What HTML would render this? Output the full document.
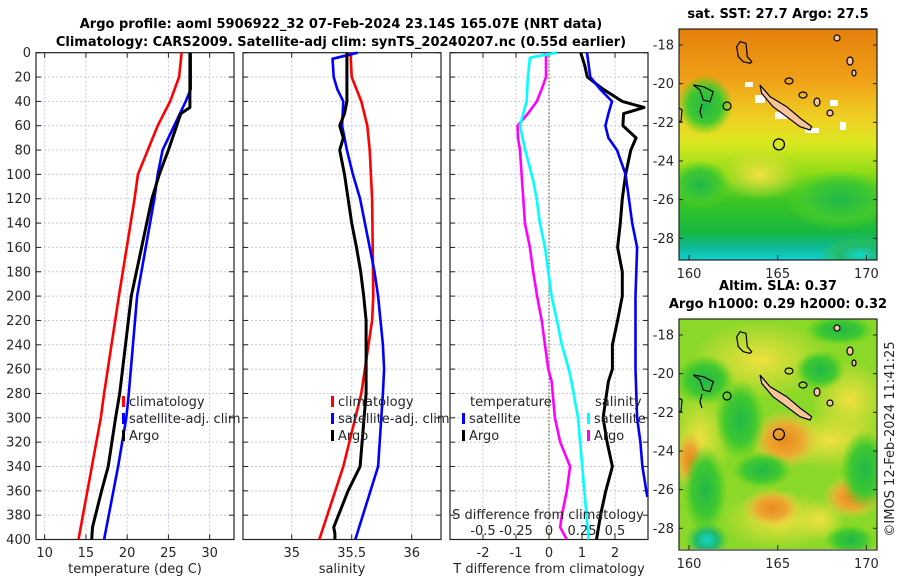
<!DOCTYPE html>
<html><head><meta charset="utf-8"><style>
body{margin:0;background:#fff}
svg{display:block;font-family:"DejaVu Sans","Liberation Sans",sans-serif}
</style></head><body>
<svg id="s" width="900" height="580" viewBox="0 0 900 580" xmlns="http://www.w3.org/2000/svg">
<defs>
<linearGradient id="sstg" x1="0" y1="0" x2="0" y2="1">
<stop offset="0" stop-color="#e4800c"/><stop offset="0.22" stop-color="#f0a018"/><stop offset="0.4" stop-color="#eed424"/><stop offset="0.5" stop-color="#d8e820"/><stop offset="0.62" stop-color="#90dc18"/><stop offset="0.75" stop-color="#38c424"/><stop offset="0.88" stop-color="#18b840"/><stop offset="0.94" stop-color="#10b890"/><stop offset="1" stop-color="#10d0d0"/>
</linearGradient>
<radialGradient id="gY"><stop offset="0" stop-color="#f0e040"/><stop offset="1" stop-color="#f0e040" stop-opacity="0"/></radialGradient>
<radialGradient id="gO"><stop offset="0" stop-color="#e88a1c"/><stop offset="0.5" stop-color="#eca830"/><stop offset="1" stop-color="#f0d040" stop-opacity="0"/></radialGradient>
<radialGradient id="gG"><stop offset="0" stop-color="#20b848"/><stop offset="0.6" stop-color="#40c830"/><stop offset="1" stop-color="#50d020" stop-opacity="0"/></radialGradient>
<radialGradient id="gT"><stop offset="0" stop-color="#10d8c8"/><stop offset="0.5" stop-color="#20b870"/><stop offset="1" stop-color="#40c830" stop-opacity="0"/></radialGradient>
<clipPath id="cm1"><rect x="679" y="29" width="198" height="231"/></clipPath>
<clipPath id="cm2"><rect x="679" y="319" width="198" height="230"/></clipPath>
</defs>
</svg>
<script>
// ---- data (depth in m, values) ----
const tClimD=[0,20,40,60,80,100,120,200,280,300,400];
const tClimV=[26.6,26.3,25.2,23.7,22.5,21.3,20.9,19.0,17.2,16.8,14.1];
const tSatD=[0,30,40,60,80,100,120,200,280,300,340,400];
const tSatV=[27.7,27.7,27.1,25.7,24.3,23.7,23.3,21.2,20.2,19.9,18.9,17.2];
const tArgoD=[0,45,50,60,80,100,120,200,280,300,340,360,390,400];
const tArgoV=[27.6,27.6,26.5,26,25,23.9,23,20.5,19.1,18.6,17.7,16.9,15.8,15.7];
const sClimD=[0,20,40,60,80,120,200,220,240,260,280,340,400];
const sClimV=[35.49,35.5,35.58,35.63,35.65,35.67,35.68,35.67,35.64,35.61,35.58,35.43,35.23];
const sSatD=[0,5,20,30,40,60,80,100,120,140,160,180,200,220,240,260,280,340,400];
const sSatV=[35.55,35.34,35.35,35.38,35.43,35.42,35.46,35.51,35.57,35.61,35.65,35.69,35.72,35.74,35.76,35.77,35.76,35.72,35.53];
const sArgoD=[0,40,50,60,70,80,100,120,140,160,180,200,220,240,260,280,340,360,390,395,400];
const sArgoV=[35.46,35.46,35.44,35.4,35.43,35.4,35.44,35.47,35.5,35.54,35.575,35.6,35.62,35.62,35.62,35.62,35.57,35.47,35.35,35.36,35.36];
const dtArgoD=[0,20,30,40,50,60,70,80,100,120,140,160,180,200,220,240,260,270,300,320,340,360,380,390,400];
const dtArgoV=[-0.09,-0.09,-0.22,-0.37,-0.64,-0.95,-0.94,-0.88,-0.83,-0.78,-0.73,-0.58,-0.48,-0.36,-0.22,-0.12,-0.02,0.08,0.18,0.34,0.64,0.54,0.39,0.34,0.54];
const dtSatD=[0,20,30,40,50,60,70,80,100,120,140,160,200,260,300,320,340,365];
const dtSatV=[1.15,1.25,1.55,1.91,1.8,1.71,1.8,2.06,2.32,2.42,2.52,2.67,2.62,2.62,2.67,2.77,2.83,2.98];
const dsSatD=[0,4,20,40,60,80,105,120,140,160,180,200,220,240,260,270,300,350,400];
const dsSatV=[0.06,-0.145,-0.16,-0.17,-0.22,-0.18,-0.12,-0.094,-0.069,-0.03,-0.005,0.02,0.06,0.097,0.15,0.17,0.22,0.26,0.3];
const dsArgoD=[0,10,20,30,40,45,50,60,70,80,100,120,140,160,180,200,220,240,260,270,300,320,340,360,380,400];
const dsArgoV=[0.24,0.27,0.29,0.41,0.555,0.72,0.565,0.56,0.66,0.62,0.58,0.555,0.54,0.52,0.555,0.555,0.52,0.48,0.48,0.45,0.41,0.44,0.48,0.43,0.39,0.36];
const depthTicks=[0,20,40,60,80,100,120,140,160,180,200,220,240,260,280,300,320,340,360,380,400];
const tTicks=[10,15,20,25,30];
const sTicks=[35,35.5,36];
const dtTicks=[-2,-1,0,1,2];
const dsTicks=[-0.5,-0.25,0,0.25,0.5];
const dsTickLabels=["-0.5","-0.25","0","0.25","0.5"];
const lonTicks=[160,165,170];
const latTicks=[-18,-20,-22,-24,-26,-28];
const floatLon=165.07, floatLat=-23.14;

const NS="http://www.w3.org/2000/svg";
const svg=document.getElementById('s');
function mk(tag,attrs,parent,txt){const e=document.createElementNS(NS,tag);for(const k in attrs)e.setAttribute(k,attrs[k]);if(txt!==undefined)e.textContent=txt;(parent||svg).appendChild(e);return e;}
const Y0=52.7,Y1=539.5;
const yD=d=>Y0+(Y1-Y0)*d/400;
function lin(d0,d1,p0,p1){return v=>p0+(v-d0)*(p1-p0)/(d1-d0);}
const panels=[
 {x0:36,x1:234,sc:lin(8.95,32.95,36,234),ticks:tTicks,name:'temperature-panel'},
 {x0:243,x1:441,sc:lin(34.594,36.244,243,441),ticks:sTicks,name:'salinity-panel'},
 {x0:450,x1:648,sc:lin(-3,3,450,648),ticks:dtTicks,name:'difference-panel'}
];
const dsSc=lin(-0.75,0.75,450,648);
const TC='#262626';
panels.forEach((p,i)=>{
 const g=mk('g',{});
 
 
 p.ticks.forEach(t=>{const x=p.sc(t);
  const l=mk('line',{x1:x,x2:x,y1:Y0,y2:Y1,stroke:'#c4c8e4','stroke-width':1,'stroke-dasharray':'2,2'},g);
  
  const tx=mk('text',{x:x,y:557,'font-size':13,'text-anchor':'middle',fill:TC},g,String(t));
  
 });
 depthTicks.forEach(d=>{const y=yD(d);
  if(d>0&&d<400){const l=mk('line',{x1:p.x0,x2:p.x1,y1:y,y2:y,stroke:'#c4c8e4','stroke-width':1,'stroke-dasharray':'2,2'},g);
  }
  mk('line',{x1:p.x0,x2:p.x0+5,y1:y,y2:y,stroke:'#222'},g);
  mk('line',{x1:p.x1-5,x2:p.x1,y1:y,y2:y,stroke:'#222'},g);
  if(i===0){const tx=mk('text',{x:31,y:y+4.5,'font-size':13,'text-anchor':'end',fill:TC},g,String(d));
   }
 });
 p.ticks.forEach(t=>{const x=p.sc(t);mk('line',{x1:x,x2:x,y1:Y1-5,y2:Y1,stroke:'#222'},g);mk('line',{x1:x,x2:x,y1:Y0,y2:Y0+5,stroke:'#222'},g);});
 const fr=mk('rect',{x:p.x0,y:Y0,width:p.x1-p.x0,height:Y1-Y0,fill:'none',stroke:'#222','stroke-width':1.2},g);
 
});
const zl=mk('line',{x1:panels[2].sc(0),x2:panels[2].sc(0),y1:Y0,y2:Y1,stroke:'#556b2f','stroke-width':1.2,'stroke-dasharray':'1.5,2'});

function series(D,V,sc,color,name,w){
 const pts=D.map((d,k)=>sc(V[k]).toFixed(1)+','+yD(d).toFixed(1)).join(' ');
 const e=mk('polyline',{points:pts,fill:'none',stroke:color,'stroke-width':w||2.6,'stroke-linejoin':'round'});
 
}
series(tClimD,tClimV,panels[0].sc,'#ff0000','temp-climatology-line');
series(tSatD,tSatV,panels[0].sc,'#0000ff','temp-satellite-line');
series(tArgoD,tArgoV,panels[0].sc,'#000','temp-argo-line',3);
series(sClimD,sClimV,panels[1].sc,'#ff0000','sal-climatology-line');
series(sSatD,sSatV,panels[1].sc,'#0000ff','sal-satellite-line');
series(sArgoD,sArgoV,panels[1].sc,'#000','sal-argo-line',3);
series(dtArgoD,dtArgoV,panels[2].sc,'#ff00ff','tdiff-argo-line');
series(dsSatD,dsSatV,dsSc,'#00ffff','sdiff-satellite-line');
series(dsArgoD,dsArgoV,dsSc,'#000','sdiff-argo-line',3);
series(dtSatD,dtSatV,panels[2].sc,'#0000ff','tdiff-satellite-line');
dsTicks.forEach((t,k)=>{const tx=mk('text',{x:dsSc(t),y:535,'font-size':13,'text-anchor':'middle',fill:TC},svg,dsTickLabels[k]);
 });
function txt(x,y,s,name,opt){const o=Object.assign({x:x,y:y,'font-size':13,fill:TC},opt||{});const e=mk('text',o,svg,s);return e;}
txt(548,519,'S difference from climatology','sdiff-axis-title',{'text-anchor':'middle'});
txt(135,573,'temperature (deg C)','temp-axis-title',{'text-anchor':'middle'});
txt(342,573,'salinity','sal-axis-title',{'text-anchor':'middle'});
txt(549,573,'T difference from climatology','tdiff-axis-title',{'text-anchor':'middle'});
txt(341,28,'Argo profile: aoml 5906922_32 07-Feb-2024 23.14S 165.07E (NRT data)','main-title',{'text-anchor':'middle','font-weight':'bold','font-size':13,fill:'#000'});
txt(341,46,'Climatology: CARS2009. Satellite-adj clim: synTS_20240207.nc (0.55d earlier)','subtitle',{'text-anchor':'middle','font-weight':'bold','font-size':13,fill:'#000'});
function leg(x,y,c,label,name){const b=mk('rect',{x:x,y:y-10,width:3,height:11,fill:c});
 txt(x+7,y,label,name);}
leg(122,406,'#ff0000','climatology','legend-climatology');
leg(122,423,'#0000ff','satellite-adj. clim','legend-satellite');
leg(122,440,'#000','Argo','legend-argo');
leg(331,406,'#ff0000','climatology','legend2-climatology');
leg(331,423,'#0000ff','satellite-adj. clim','legend2-satellite');
leg(331,440,'#000','Argo','legend2-argo');
txt(470,406,'temperature','legend-temperature-heading');
leg(462,423,'#0000ff','satellite','legend-t-satellite');
leg(462,440,'#000','Argo','legend-t-argo');
txt(595,406,'salinity','legend-salinity-heading');
leg(587,423,'#00ffff','satellite','legend-s-satellite');
leg(587,440,'#ff00ff','Argo','legend-s-argo');
// ---- maps ----
const lonX=lin(160,165,689,777.7);
function latY(base){return lin(-18,-28,base,base+193.3);}
function map(yTop,latBase,clip,name,title1,title2,bg){
 const g=mk('g',{'clip-path':'url(#'+clip+')'});
 
 bg(g);
 const ly=latY(latBase);const dy=latBase-45;
 const cg=mk('g',{transform:'translate(0,'+dy+')',fill:'none',stroke:'#000','stroke-width':1.2},g);
 
 mk('polygon',{points:'760,85 770,96.7 786.7,106.7 800,118 811.7,126.7 810,130 800,126.7 786.7,116.7 773,106.7 761.7,93.3',fill:'#f8c49a'},cg);
 mk('polygon',{points:'740,41.7 746,43.3 747.3,56.7 751.7,61.7 750,63.3 743.3,61.7 738.3,56.7 736.7,46.7'},cg);
 mk('polygon',{points:'693.3,85 703.3,86.7 713.3,91.7 710,101.7 703.3,100 700,90'},cg);
 mk('ellipse',{cx:789,cy:81,rx:4,ry:3},cg);mk('ellipse',{cx:727,cy:106,rx:4,ry:4},cg);
 mk('ellipse',{cx:803,cy:95,rx:4,ry:3},cg);mk('ellipse',{cx:817,cy:102,rx:3,ry:4,fill:'#f8c49a'},cg);
 mk('ellipse',{cx:830,cy:113,rx:3,ry:3,fill:'#f8c49a'},cg);mk('ellipse',{cx:837,cy:38,rx:3,ry:3,fill:'#f8c49a'},cg);
 mk('ellipse',{cx:850,cy:61,rx:3,ry:4,fill:'#f8c49a'},cg);mk('ellipse',{cx:854,cy:73,rx:2,ry:3,fill:'#f8c49a'},cg);
 mk('polyline',{points:'679,108 682,110 681,122 679,121'},cg);
 mk('polyline',{points:'702,104 700,112 702,118'},cg);
 const c=mk('circle',{cx:lonX(floatLon),cy:ly(floatLat),r:5.5,fill:'none',stroke:'#000','stroke-width':1.3},g);
 
 const fr=mk('rect',{x:679,y:yTop,width:198,height:231,fill:'none',stroke:'#222','stroke-width':1.2});
 
 lonTicks.forEach(t=>{const x=lonX(t);mk('line',{x1:x,x2:x,y1:yTop+231,y2:yTop+226,stroke:'#222'});
  txt(x,yTop+249,String(t),'lon-tick-label',{'text-anchor':'middle'});});
 latTicks.forEach(t=>{const y=ly(t);mk('line',{x1:679,x2:683,y1:y,y2:y,stroke:'#222'});mk('line',{x1:873,x2:877,y1:y,y2:y,stroke:'#222'});
  txt(674,y+4.5,String(t),'lat-tick-label',{'text-anchor':'end'});});
 txt(778,yTop-11-(title2?18:0),title1,name+'-title',{'text-anchor':'middle','font-weight':'bold','font-size':13,fill:'#000'});
 if(title2)txt(778,yTop-11,title2,name+'-subtitle',{'text-anchor':'middle','font-weight':'bold','font-size':13,fill:'#000'});
}
map(29,45,'cm1','sst-map','sat. SST: 27.7 Argo: 27.5',null,g=>{
 mk('rect',{x:679,y:29,width:198,height:231,fill:'url(#sstg)'},g);
 mk('ellipse',{cx:705,cy:105,rx:28,ry:30,fill:'url(#gG)'},g);
 mk('ellipse',{cx:760,cy:175,rx:40,ry:25,fill:'url(#gY)'},g);
 mk('ellipse',{cx:840,cy:200,rx:55,ry:30,fill:'url(#gG)'},g);
 mk('ellipse',{cx:700,cy:185,rx:30,ry:25,fill:'url(#gG)'},g);
 mk('ellipse',{cx:860,cy:255,rx:40,ry:18,fill:'url(#gT)'},g);
 ['755,95,10,8','775,112,12,7','830,100,8,6','840,122,6,8','805,128,14,5','745,82,8,5'].forEach(s=>{const a=s.split(',').map(Number);mk('rect',{x:a[0],y:a[1],width:a[2],height:a[3],fill:'#fff'},g);});
});
map(319,335,'cm2','sla-map','Altim. SLA: 0.37','Argo h1000: 0.29 h2000: 0.32',g=>{
 mk('rect',{x:679,y:319,width:198,height:230,fill:'#8ad828'},g);
 [[760,360,70,40,'gY'],[700,440,30,50,'gY'],[830,440,60,30,'gY'],[780,520,60,30,'gY'],[850,400,40,40,'gY'],
  [785,440,35,30,'gO'],[772,508,30,20,'gO'],[852,497,30,22,'gO'],[690,460,15,30,'gO'],[820,520,25,20,'gY'],
  [762,470,30,18,'gG'],[705,490,22,45,'gG'],[740,420,25,40,'gG'],[705,380,30,25,'gG'],[865,470,25,40,'gG'],
  [820,370,25,20,'gG'],[840,330,35,15,'gG'],[707,540,22,18,'gT'],[850,540,25,15,'gG']].forEach(a=>mk('ellipse',{cx:a[0],cy:a[1],rx:a[2],ry:a[3],fill:'url(#'+a[4]+')'},g));
});
txt(894,439,'©IMOS 12-Feb-2024 11:41:25','timestamp-label',{'text-anchor':'middle',transform:'rotate(-90 894 439)','font-size':13});
</script>
</body></html>
